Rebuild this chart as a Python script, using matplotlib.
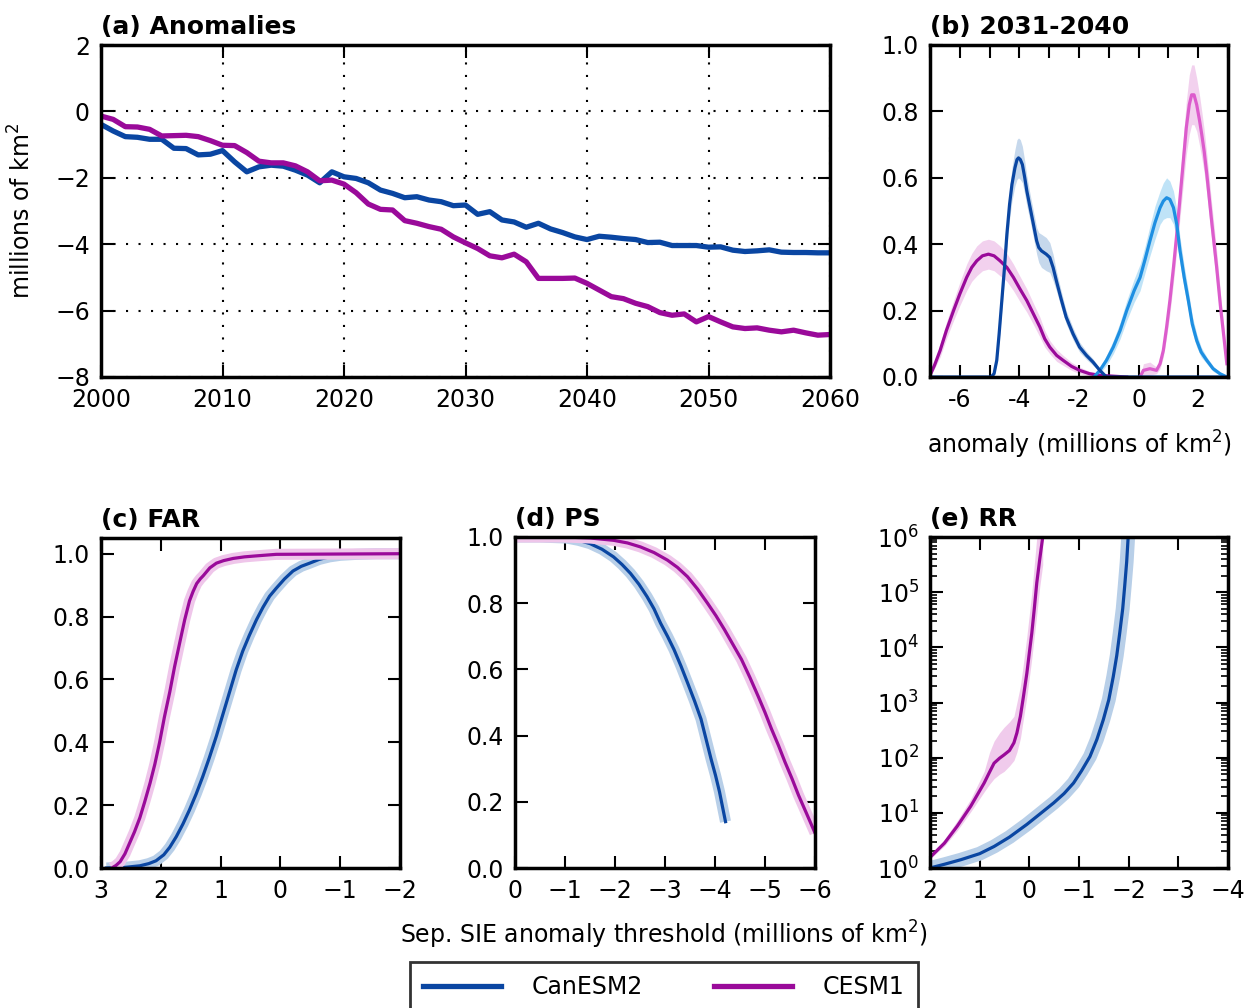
import numpy as np
import matplotlib
matplotlib.use('Agg')
import matplotlib.pyplot as plt
from matplotlib.ticker import MultipleLocator, FuncFormatter, FixedLocator
from matplotlib.lines import Line2D

# ---------------- data ----------------
years = list(range(2000, 2061))
can_anom = [-0.39, -0.59, -0.76, -0.78, -0.84, -0.84, -1.11, -1.12, -1.31, -1.29,
            -1.18, -1.52, -1.82, -1.67, -1.62, -1.65, -1.77, -1.92, -2.15, -1.82,
            -1.97, -2.02, -2.15, -2.37, -2.47, -2.60, -2.57, -2.67, -2.72, -2.84,
            -2.82, -3.10, -3.02, -3.27, -3.33, -3.49, -3.37, -3.54, -3.65, -3.78,
            -3.86, -3.76, -3.79, -3.83, -3.86, -3.95, -3.94, -4.04, -4.04, -4.04,
            -4.09, -4.08, -4.18, -4.22, -4.20, -4.17, -4.24, -4.25, -4.25, -4.26,
            -4.26]
cesm_anom = [-0.14, -0.24, -0.46, -0.47, -0.54, -0.74, -0.73, -0.72, -0.76, -0.88,
             -1.02, -1.03, -1.24, -1.50, -1.55, -1.55, -1.64, -1.82, -2.09, -2.07,
             -2.19, -2.45, -2.79, -2.95, -2.97, -3.29, -3.37, -3.47, -3.55, -3.78,
             -3.96, -4.13, -4.35, -4.41, -4.30, -4.53, -5.03, -5.03, -5.03, -5.02,
             -5.18, -5.38, -5.58, -5.64, -5.78, -5.88, -6.06, -6.14, -6.10, -6.34,
             -6.18, -6.34, -6.49, -6.54, -6.52, -6.59, -6.64, -6.59, -6.67, -6.74,
             -6.72]

# (b) distributions 2031-2040
can_fut_x = [-7.0, -5.2, -4.95, -4.85, -4.76, -4.68, -4.59, -4.5, -4.42, -4.33, -4.25, -4.15,
             -4.08, -4.03, -3.97, -3.9, -3.82, -3.75, -3.64, -3.53, -3.42, -3.35, -3.26,
             -3.1, -2.98, -2.87, -2.76, -2.6, -2.43, -2.2, -1.98, -1.75, -1.53, -1.3, -1.08, 3.0]
can_fut_y = [0.0, 0.0, 0.0, 0.01, 0.05, 0.13, 0.23, 0.33, 0.43, 0.52, 0.58, 0.63,
             0.655, 0.66, 0.655, 0.64, 0.60, 0.56, 0.51, 0.46, 0.41, 0.39, 0.38,
             0.37, 0.36, 0.33, 0.29, 0.235, 0.18, 0.13, 0.09, 0.065, 0.045, 0.02, 0.0, 0.0]
can_fut_s = [0.0, 0.0, 0.0, 0.005, 0.01, 0.02, 0.03, 0.035, 0.04, 0.045, 0.05, 0.055,
             0.06, 0.06, 0.06, 0.055, 0.05, 0.045, 0.04, 0.04, 0.04, 0.045, 0.05,
             0.05, 0.045, 0.04, 0.03, 0.025, 0.02, 0.018, 0.015, 0.012, 0.01, 0.005, 0.0, 0.0]

can_hist_x = [-1.5, -1.30, -1.08, -0.85, -0.62, -0.40, -0.15, 0.05, 0.22, 0.38, 0.55, 0.72,
              0.83, 0.94, 1.05, 1.17, 1.28, 1.39, 1.53, 1.67, 1.8, 1.95, 2.1, 2.29, 2.5,
              2.73, 2.96]
can_hist_y = [0.0, 0.02, 0.05, 0.09, 0.14, 0.20, 0.26, 0.30, 0.355, 0.41, 0.465, 0.51,
              0.53, 0.54, 0.535, 0.51, 0.46, 0.38, 0.30, 0.23, 0.16, 0.11, 0.075, 0.05, 0.025,
              0.01, 0.0]
can_hist_s = [0.0, 0.01, 0.015, 0.02, 0.025, 0.03, 0.035, 0.04, 0.04, 0.045, 0.05, 0.05,
              0.055, 0.06, 0.055, 0.05, 0.045, 0.04, 0.035, 0.03, 0.025, 0.02, 0.015, 0.01,
              0.008, 0.005, 0.0]

cesm_fut_x = [-7.0, -6.85, -6.66, -6.45, -6.21, -6.0, -5.77, -5.6, -5.43, -5.24, -5.04,
              -4.85, -4.65, -4.42, -4.2, -3.98, -3.75, -3.53, -3.31, -3.15, -2.98,
              -2.75, -2.53, -2.25, -1.98, -1.65, -1.30, -0.4]
cesm_fut_y = [0.005, 0.035, 0.08, 0.14, 0.20, 0.25, 0.30, 0.33, 0.35, 0.365, 0.37,
              0.365, 0.35, 0.33, 0.30, 0.265, 0.23, 0.19, 0.15, 0.115, 0.09,
              0.065, 0.05, 0.032, 0.02, 0.01, 0.005, 0.0]
cesm_fut_s = [0.005, 0.01, 0.02, 0.025, 0.03, 0.035, 0.04, 0.042, 0.045, 0.045, 0.045,
              0.045, 0.045, 0.042, 0.04, 0.038, 0.035, 0.032, 0.03, 0.025, 0.02,
              0.018, 0.015, 0.012, 0.01, 0.007, 0.005, 0.0]

cesm_hist_x = [0.05, 0.16, 0.38, 0.6, 0.72, 0.83, 0.94, 1.05, 1.17, 1.28, 1.39, 1.5, 1.6,
               1.7, 1.78, 1.86, 1.95, 2.05, 2.12, 2.2, 2.29, 2.45, 2.62, 2.75, 2.85, 2.96]
cesm_hist_y = [0.0, 0.02, 0.025, 0.02, 0.04, 0.08, 0.15, 0.23, 0.33, 0.43, 0.54, 0.65, 0.75,
               0.82, 0.85, 0.85, 0.82, 0.77, 0.73, 0.68, 0.61, 0.47, 0.33, 0.21, 0.13, 0.04]
cesm_hist_s = [0.0, 0.02, 0.02, 0.01, 0.015, 0.02, 0.03, 0.04, 0.045, 0.05, 0.06, 0.07, 0.08,
               0.09, 0.09, 0.09, 0.08, 0.075, 0.07, 0.065, 0.06, 0.055, 0.05, 0.04, 0.03, 0.02]

# (c) FAR
far_can_x = [2.91, 2.6, 2.35, 2.2, 2.08, 1.95, 1.85, 1.74, 1.63, 1.52, 1.41, 1.30, 1.19,
             1.07, 0.96, 0.85, 0.74, 0.63, 0.52, 0.40, 0.29, 0.18, 0.07, -0.07, -0.21,
             -0.35, -0.49, -0.65, -0.82, -1.0, -1.27, -1.6, -2.0]
far_can_y = [0.0, 0.002, 0.007, 0.014, 0.023, 0.042, 0.066, 0.10, 0.14, 0.185, 0.235, 0.29,
             0.35, 0.42, 0.49, 0.56, 0.63, 0.69, 0.74, 0.79, 0.83, 0.865, 0.89, 0.92, 0.945,
             0.96, 0.97, 0.982, 0.99, 0.995, 0.998, 1.0, 1.0]
far_cesm_x = [2.82, 2.75, 2.68, 2.6, 2.52, 2.44, 2.35, 2.27, 2.18, 2.1, 2.02, 1.94, 1.85,
              1.77, 1.68, 1.6, 1.52, 1.46, 1.40, 1.34, 1.29, 1.18, 1.07, 0.95, 0.79, 0.6,
              0.41, 0.07, -2.0]
far_cesm_y = [0.0, 0.008, 0.02, 0.045, 0.08, 0.115, 0.16, 0.21, 0.27, 0.33, 0.40, 0.48, 0.56,
              0.64, 0.72, 0.79, 0.85, 0.88, 0.905, 0.92, 0.93, 0.955, 0.97, 0.978, 0.985, 0.99,
              0.993, 0.998, 1.0]

# (d) PS
ps_can_x = [0.0, -0.5, -1.03, -1.27, -1.5, -1.74, -1.97, -2.14, -2.31, -2.48, -2.64, -2.78,
            -2.91, -3.05, -3.18, -3.32, -3.45, -3.59, -3.72, -3.82, -3.92, -4.01, -4.09,
            -4.15, -4.21]
ps_can_y = [1.0, 1.0, 0.997, 0.99, 0.98, 0.963, 0.94, 0.917, 0.89, 0.857, 0.82, 0.783,
            0.74, 0.70, 0.66, 0.61, 0.56, 0.505, 0.45, 0.39, 0.33, 0.28, 0.23, 0.185, 0.14]
ps_cesm_x = [0.0, -1.0, -1.5, -1.97, -2.25, -2.51, -2.78, -3.05, -3.25, -3.45, -3.65, -3.85,
             -4.02, -4.19, -4.36, -4.53, -4.7, -4.86, -5.0, -5.13, -5.27, -5.4, -5.54,
             -5.67, -5.83, -6.0]
ps_cesm_y = [1.0, 1.0, 0.997, 0.99, 0.982, 0.97, 0.953, 0.93, 0.908, 0.88, 0.843, 0.80,
             0.762, 0.72, 0.675, 0.63, 0.575, 0.52, 0.47, 0.42, 0.37, 0.32, 0.27,
             0.22, 0.165, 0.106]

# (e) RR (log10 values)
rr_can_x = [2.0, 1.7, 1.38, 1.0, 0.71, 0.4, 0.05, -0.2, -0.49, -0.7, -0.89, -1.05, -1.22,
            -1.36, -1.49, -1.6, -1.69, -1.76, -1.82, -1.88, -1.92, -1.96, -1.99]
rr_can_log = [0.0, 0.07, 0.15, 0.26, 0.39, 0.56, 0.79, 0.97, 1.18, 1.35, 1.54, 1.76, 2.02,
              2.33, 2.69, 3.05, 3.47, 3.85, 4.26, 4.7, 5.11, 5.55, 6.0]
rr_cesm_x = [1.98, 1.71, 1.45, 1.18, 0.91, 0.8, 0.71, 0.6, 0.51, 0.4, 0.31, 0.25, 0.18,
             0.12, 0.05, 0.0, -0.05, -0.1, -0.15, -0.21, -0.27]
rr_cesm_log = [0.21, 0.45, 0.76, 1.12, 1.54, 1.74, 1.90, 1.99, 2.05, 2.13, 2.27, 2.45, 2.75,
               3.1, 3.53, 3.9, 4.26, 4.7, 5.17, 5.6, 6.0]
rr_cesm_up = [0.25, 0.52, 0.86, 1.25, 1.75, 2.1, 2.30, 2.45, 2.55, 2.65, 2.75, 3.0, 3.30,
              3.7, 4.20, 4.6, 5.00, 5.5, 6.0, 6.3, 6.5]
rr_cesm_lo = [0.18, 0.40, 0.68, 1.02, 1.38, 1.52, 1.62, 1.70, 1.75, 1.85, 1.95, 2.1, 2.35,
              2.7, 3.10, 3.45, 3.80, 4.2, 4.60, 5.1, 5.5]

labels = ['CanESM2', 'CESM1']

# ---------------- style ----------------
plt.rcParams['font.family'] = ['DejaVu Sans']
plt.rcParams['mathtext.default'] = 'regular'
FS = 17
C_CAN = '#0a46a2'
C_CESM = '#9a0a9a'
C_CAN_L = '#1e8fe2'
C_CESM_L = '#dc5ccc'
B_CAN = '#b8cfe8'
B_CAN_L = '#b0dcf5'
B_CESM = '#efc6ea'

W, H = 1258, 1008
fig = plt.figure(figsize=(W / 100, H / 100), dpi=100)


def box(l, t, r, b):
    return [l / W, 1 - b / H, (r - l) / W, (b - t) / H]


def style(ax):
    for s in ax.spines.values():
        s.set_linewidth(2.5)
    ax.tick_params(which='both', direction='in', top=True, right=True,
                   labelsize=FS, pad=8)
    ax.tick_params(which='major', length=9, width=1.5)
    ax.tick_params(which='minor', length=5, width=1.2)


def title(ax, txt):
    ax.set_title(txt, loc='left', fontsize=18, fontweight='bold', pad=8)


# (a)
axa = fig.add_axes(box(101, 45, 830, 377))
axa.plot(years, can_anom, color=C_CAN, lw=3.8)
axa.plot(years, cesm_anom, color=C_CESM, lw=3.8)
axa.set_xlim(2000, 2060)
axa.set_ylim(-8, 2)
axa.xaxis.set_major_locator(MultipleLocator(10))
axa.yaxis.set_major_locator(MultipleLocator(2))
axa.grid(True, color='black', linestyle=(0, (1, 5)), linewidth=1.5)
style(axa)
title(axa, '(a) Anomalies')
axa.set_ylabel('millions of km$^2$', fontsize=FS, labelpad=14)

# (b)
axb = fig.add_axes(box(930, 45, 1228, 377))
for x, y, s, c, bc in [(cesm_fut_x, cesm_fut_y, cesm_fut_s, C_CESM, B_CESM),
                       (cesm_hist_x, cesm_hist_y, cesm_hist_s, C_CESM_L, B_CESM),
                       (can_hist_x, can_hist_y, can_hist_s, C_CAN_L, B_CAN_L),
                       (can_fut_x, can_fut_y, can_fut_s, C_CAN, B_CAN)]:
    x = np.array(x); y = np.array(y); s = np.array(s)
    axb.fill_between(x, y - s, y + s, color=bc, alpha=0.8, lw=0)
    axb.plot(x, y, color=c, lw=2.3)
axb.set_xlim(-7, 3)
axb.set_ylim(0, 1.0)
axb.xaxis.set_major_locator(MultipleLocator(2))
axb.xaxis.set_minor_locator(MultipleLocator(1))
axb.xaxis.set_major_formatter(FuncFormatter(lambda v, p: f'{v:g}'))
axb.yaxis.set_major_locator(MultipleLocator(0.2))
axb.yaxis.set_major_formatter(FuncFormatter(lambda v, p: f'{v:.1f}'))
style(axb)
axb.tick_params(which='minor', length=9, width=1.5)
title(axb, '(b) 2031-2040')
axb.set_xlabel('anomaly (millions of km$^2$)', fontsize=FS, labelpad=12)

# (c)
axc = fig.add_axes(box(101, 538, 400, 868))
for x, y, c, bc in [(far_can_x, far_can_y, C_CAN, B_CAN),
                    (far_cesm_x, far_cesm_y, C_CESM, B_CESM)]:
    axc.plot(x, y, color=bc, lw=8, solid_capstyle='butt')
    axc.plot(x, y, color=c, lw=2.3)
axc.set_xlim(3, -2)
axc.set_ylim(0, 1.05)
axc.xaxis.set_major_locator(MultipleLocator(1))
axc.yaxis.set_major_locator(FixedLocator([0, 0.2, 0.4, 0.6, 0.8, 1.0]))
axc.yaxis.set_major_formatter(FuncFormatter(lambda v, p: f'{v:.1f}'))
style(axc)
title(axc, '(c) FAR')

# (d)
axd = fig.add_axes(box(515, 537, 815, 868))
for x, y, c, bc in [(ps_can_x, ps_can_y, C_CAN, B_CAN),
                    (ps_cesm_x, ps_cesm_y, C_CESM, B_CESM)]:
    axd.plot(x, y, color=bc, lw=8, solid_capstyle='butt')
    axd.plot(x, y, color=c, lw=2.3)
axd.set_xlim(0, -6)
axd.set_ylim(0, 1.0)
axd.xaxis.set_major_locator(MultipleLocator(1))
axd.yaxis.set_major_locator(MultipleLocator(0.2))
axd.yaxis.set_major_formatter(FuncFormatter(lambda v, p: f'{v:.1f}'))
style(axd)
title(axd, '(d) PS')

# (e)
axe = fig.add_axes(box(930, 537, 1228, 868))
ce = 10 ** np.array(rr_cesm_log)
axe.fill_between(rr_cesm_x, 10 ** np.array(rr_cesm_lo), 10 ** np.array(rr_cesm_up),
                 color=B_CESM, alpha=0.9, lw=0)
axe.plot(rr_can_x, 10 ** np.array(rr_can_log), color=B_CAN, lw=10)
axe.plot(rr_cesm_x, ce, color=C_CESM, lw=2.3)
axe.plot(rr_can_x, 10 ** np.array(rr_can_log), color=C_CAN, lw=2.3)
axe.set_yscale('log')
axe.set_xlim(2, -4)
axe.set_ylim(1, 1e6)
axe.xaxis.set_major_locator(MultipleLocator(1))
style(axe)
title(axe, '(e) RR')

fig.text(664 / W, 1 - 935 / H, 'Sep. SIE anomaly threshold (millions of km$^2$)',
         ha='center', va='center', fontsize=FS)

handles = [Line2D([], [], color=C_CAN, lw=3.8), Line2D([], [], color=C_CESM, lw=3.8)]
leg = fig.legend(handles, labels, loc='upper center', ncol=2,
                 bbox_to_anchor=(664 / W, 1 - 962 / H), fontsize=FS,
                 frameon=True, fancybox=False, edgecolor='black',
                 handlelength=3.3, handletextpad=1.3, columnspacing=3.0,
                 borderpad=0.55, borderaxespad=0)
leg.get_frame().set_linewidth(2)

fig.savefig('out.png', dpi=100)
